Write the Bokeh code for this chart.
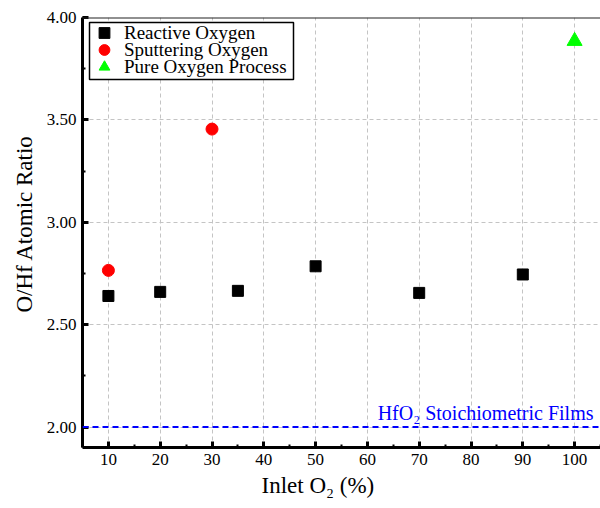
from bokeh.plotting import figure
from bokeh.models import (Span, Label, Legend, LegendItem, SingleIntervalTicker,
                          NumeralTickFormatter, Range1d, BoxAnnotation, Title)
from bokeh.embed import file_html
from bokeh.resources import INLINE

# ---- data ----
reactive_x = [10, 20, 35, 50, 70, 90]
reactive_y = [2.64, 2.66, 2.665, 2.785, 2.655, 2.745]
sputter_x = [10, 30]
sputter_y = [2.765, 3.455]
pure_x = [100]
pure_y = [3.885]
stoich_ratio = 2.0
x_ticks_interval = 10
y_ticks_interval = 0.5
series_labels = ["Reactive Oxygen", "Sputtering Oxygen", "Pure Oxygen Process"]

FONT = "Liberation Serif"
W, H = 600, 508
BL, BR, BT, BB = 82, 0, 17, 61          # borders (px)
X0, X1, Y0, Y1 = 5, 105, 1.9, 4.0

p = figure(width=W, height=H, output_backend="svg", toolbar_location=None,
           x_range=Range1d(X0, X1), y_range=Range1d(Y0, Y1),
           min_border_left=BL, min_border_right=BR, min_border_top=BT,
           min_border_bottom=BB)
p.outline_line_color = None
p.background_fill_color = "white"
p.border_fill_color = "white"

FW, FH = W - BL - BR, H - BT - BB


def px_x(px):
    return X0 + (px - BL) * (X1 - X0) / FW


def px_y(py):
    return Y1 - (py - BT) * (Y1 - Y0) / FH


# axes
p.xaxis.ticker = SingleIntervalTicker(interval=x_ticks_interval, num_minor_ticks=2)
p.yaxis.ticker = SingleIntervalTicker(interval=y_ticks_interval, num_minor_ticks=2)
p.yaxis.formatter = NumeralTickFormatter(format="0.00")
for ax in (p.xaxis, p.yaxis):
    ax.axis_line_width = 3
    ax.axis_line_color = "black"
    ax.major_tick_in = 6
    ax.major_tick_out = 0
    ax.minor_tick_in = 3
    ax.minor_tick_out = 0
    ax.major_tick_line_width = 3
    ax.minor_tick_line_width = 2
    ax.major_tick_line_color = "black"
    ax.minor_tick_line_color = "black"
    ax.major_label_text_font = FONT
    ax.major_label_text_font_size = "17px"
    ax.major_label_text_color = "black"
    ax.major_label_standoff = 6

# axis titles
p.add_layout(Title(text="Inlet O\u2082 (%)", align="left", offset=179, standoff=6,
                   text_font=FONT, text_font_size="23px", text_font_style="normal",
                   text_color="black"), "below")
p.add_layout(Title(text="O/Hf Atomic Ratio", align="left", offset=135, standoff=14,
                   text_font=FONT, text_font_size="23px", text_font_style="normal",
                   text_color="black"), "left")

# grid
for g in (p.xgrid, p.ygrid):
    g.grid_line_color = "#c4c4c4"
    g.grid_line_dash = "4 3"
    g.grid_line_width = 1

# top frame line
p.add_layout(Span(location=Y1, dimension="width", line_color="#222222", line_width=2))

# stoichiometric line
p.add_layout(Span(location=stoich_ratio, dimension="width", line_color="#0000ff",
                  line_width=2, line_dash="6 4"))
p.add_layout(Label(x=px_x(593), y=stoich_ratio, y_offset=3,
                   text="HfO\u2082 Stoichiometric Films",
                   text_align="right", text_baseline="bottom", text_font=FONT,
                   text_font_size="20px", text_color="#0000ff"))

r1 = p.scatter(reactive_x, reactive_y, marker="square", size=11, fill_color="black",
               line_color="black")
r2 = p.scatter(sputter_x, sputter_y, marker="circle", size=12, fill_color="#ff0000",
               line_color="#ff0000")
r3 = p.scatter(pure_x, pure_y, marker="triangle", size=15, fill_color="#00ff00",
               line_color="#00ff00")

# legend frame
p.add_layout(BoxAnnotation(left=px_x(89), right=px_x(293), top=px_y(22), bottom=px_y(79),
                           fill_color="white", fill_alpha=1.0, line_color="black",
                           line_width=1.5, line_alpha=1.0))

# legend rows (one per series, tightly stacked)
ROW_H, ROW_STEP, FIRST_TOP = 27, 17, 19
for i, (lab, r) in enumerate(zip(series_labels, [r1, r2, r3])):
    top_rel = FIRST_TOP + i * ROW_STEP - BT
    vy = FH - top_rel - ROW_H
    lg = Legend(items=[LegendItem(label=lab, renderers=[r])],
                location=(8, vy), margin=0, padding=0, spacing=0,
                glyph_width=28, glyph_height=ROW_H, label_height=17, label_standoff=6,
                label_text_font=FONT, label_text_font_size="19px",
                label_text_color="black", border_line_color=None,
                background_fill_alpha=0.0)
    p.add_layout(lg)

open("out.html", "w").write(file_html(p, INLINE))
